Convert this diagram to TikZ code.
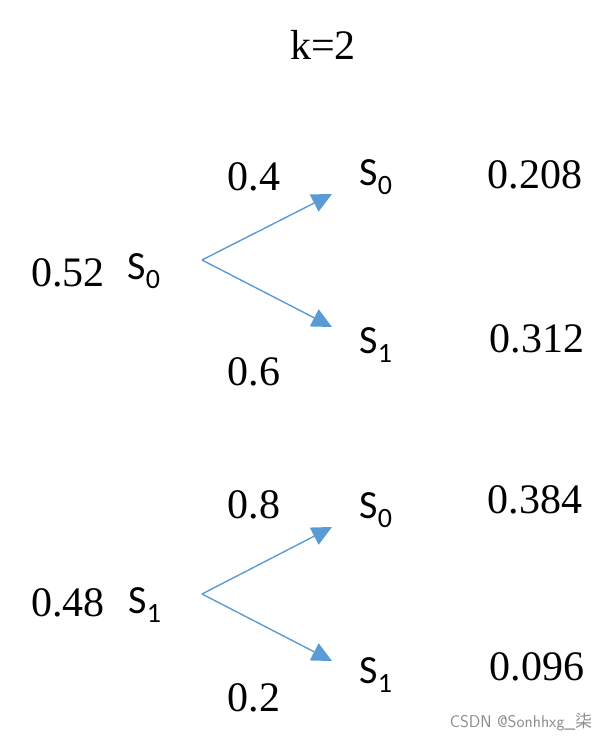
\documentclass[tikz,border=0pt]{standalone}
\usepackage{fontspec}
\setmainfont{Liberation Serif}
\newfontfamily\statefont{Carlito}
\newfontfamily\cjk{Noto Sans CJK SC}
\usetikzlibrary{arrows.meta}
\definecolor{arrowblue}{RGB}{91,155,213}

\begin{document}
\begin{tikzpicture}[x=1pt, y=-1pt, font=\fontsize{42}{46}\selectfont]
\tikzset{
  prob/.style={inner sep=0pt},
  state/.style={inner sep=0pt, font=\fontsize{40}{44}\selectfont\statefont},
  branch/.style={draw=arrowblue, line width=1.4pt, -{Triangle[length=20pt, width=19pt]}}
}
\useasboundingbox (0,0) rectangle (613,742);
\node[prob] (k) at (323,45) {k=2};
% upper tree
\node[prob] (p1) at (68,273) {0.52};
\node[state] (a) at (144,271) {S\textsubscript{0}};
\coordinate (va) at (202,260);
\coordinate (ta) at (332,194);
\coordinate (tb) at (332,327);
\draw[branch] (va) -- (ta);
\draw[branch] (va) -- (tb);
\node[prob] (q1) at (254,177) {0.4};
\node[prob] (q2) at (254,372) {0.6};
\node[state] (a0) at (376,177) {S\textsubscript{0}};
\node[state] (a1) at (376,345) {S\textsubscript{1}};
\node[prob] (r1) at (535,175) {0.208};
\node[prob] (r2) at (537,339) {0.312};
% lower tree
\node[prob] (p2) at (68,603) {0.48};
\node[state] (b) at (145,605) {S\textsubscript{1}};
\coordinate (vb) at (202,594);
\coordinate (tc) at (332,527);
\coordinate (td) at (332,661);
\draw[branch] (vb) -- (tc);
\draw[branch] (vb) -- (td);
\node[prob] (q3) at (254,505) {0.8};
\node[prob] (q4) at (254,698) {0.2};
\node[state] (b0) at (376,510) {S\textsubscript{0}};
\node[state] (b1) at (376,675) {S\textsubscript{1}};
\node[prob] (r3) at (535,500) {0.384};
\node[prob] (r4) at (537,667) {0.096};
% watermark
\node[prob, text=black!45, font=\fontsize{17}{19}\selectfont\sffamily] (wm) at (521,722) {CSDN @Sonhhxg\_{\cjk 柒}};
\end{tikzpicture}
\end{document}
